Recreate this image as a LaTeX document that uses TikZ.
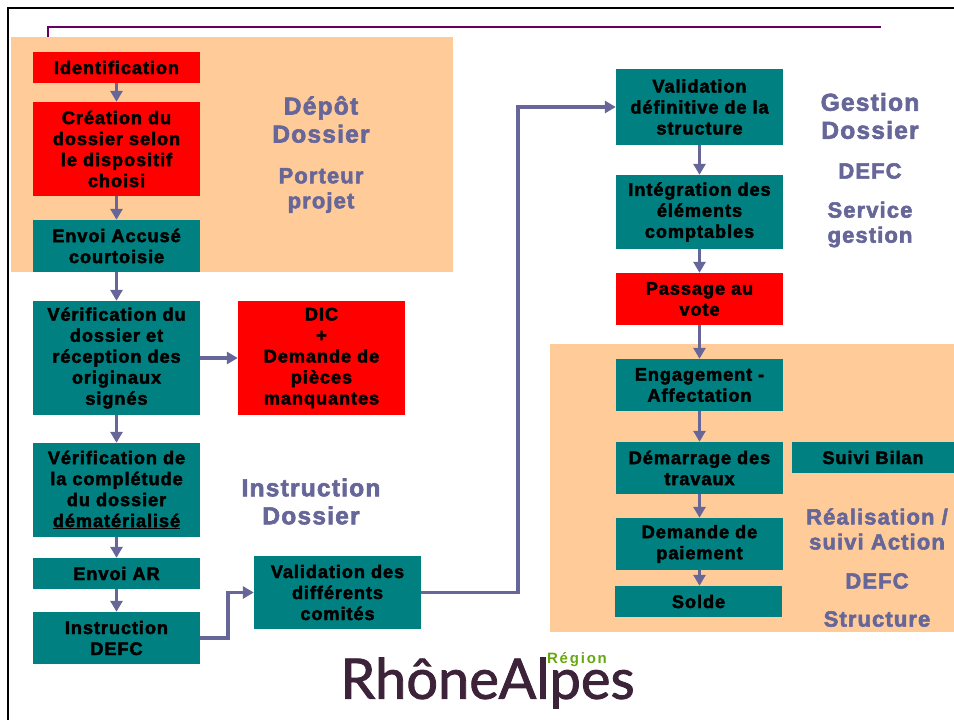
\documentclass[tikz,border=0pt]{standalone}
\usepackage{fontspec}
\setmainfont{Liberation Sans}
\newfontfamily\heavyfont[FakeBold=2.5,LetterSpace=5]{Liberation Sans Bold}
\newfontfamily\regionfont[LetterSpace=12]{Liberation Sans Bold}
\newfontfamily\logofont[FakeBold=1.5]{Lato}
\usetikzlibrary{arrows.meta}
\definecolor{tealbox}{HTML}{008080}
\definecolor{peach}{HTML}{FFCC99}
\definecolor{slate}{HTML}{666699}
\definecolor{plum}{HTML}{660066}
\definecolor{logodark}{HTML}{3D2339}
\definecolor{logogreen}{HTML}{66A80F}
\tikzstyle{zone} = [rectangle,
inner sep=0pt,
fill=peach]
\tikzstyle{redbox} = [rectangle,
minimum width=167pt,
inner sep=0pt,
align=center,
font=\heavyfont\fontsize{18.2}{21}\selectfont,
fill=red]
\tikzstyle{tealstep} = [redbox,
fill=tealbox]
\tikzstyle{title} = [align=center,
text=slate,
font=\heavyfont\fontsize{24.5}{28}\selectfont]
\tikzstyle{subtitle} = [align=center,
text=slate,
font=\heavyfont\fontsize{22}{25}\selectfont]
\tikzstyle{arrow} = [line width=3.5pt, draw=slate, -{Triangle[length=11pt,width=12pt]}]

\begin{document}
\begin{tikzpicture}[x=1pt, y=1pt]
			\useasboundingbox (0,0) rectangle (954,-720);
			\coordinate (framebl) at (8,-720);
			\coordinate (frametl) at (8,-8);
			\coordinate (frametr) at (954,-8);
			\coordinate (rulestart) at (48,-38);
			\coordinate (rulecorner) at (48,-27);
			\coordinate (ruleend) at (881,-27);
			\draw[line width=2.5pt, black] (framebl) -- (frametl) -- (frametr);
			\draw[line width=2.5pt, plum] (rulestart) -- (rulecorner) -- (ruleend);

			\node (depotzone) [zone, minimum width=442pt, minimum height=235pt] at (232,-154.5) {};
			\node (realzone) [zone, minimum width=404pt, minimum height=288pt] at (752,-488) {};

			\node (ident) [redbox, minimum height=31pt] at (116.5,-67.5) {Identification};
			\node (creation) [redbox, minimum height=94pt, below of=ident, node distance=81.5pt] {Création du\\dossier selon\\le dispositif\\choisi};
			\node (accuse) [tealstep, minimum height=52pt, below of=creation, node distance=97pt] {Envoi Accusé\\courtoisie};
			\node (verif) [tealstep, minimum height=114pt, below of=accuse, node distance=112pt] {Vérification du\\dossier et\\réception des\\originaux\\signés};
			\node (dic) [redbox, minimum height=114pt, right of=verif, node distance=205pt] {DIC\\+\\Demande de\\pièces\\manquantes};
			\node (complete) [tealstep, minimum height=94pt, below of=verif, node distance=132pt] {Vérification de\\la complétude\\du dossier\\\underline{dématérialisé}};
			\node (envoiar) [tealstep, minimum height=31pt, below of=complete, node distance=83.5pt] {Envoi AR};
			\node (instr) [tealstep, minimum height=52pt, below of=envoiar, node distance=64.5pt] {Instruction\\DEFC};
			\node (comites) [tealstep, minimum height=73pt] at (337.5,-592.5) {Validation des\\différents\\comités};

			\node (definitive) [tealstep, minimum height=76pt] at (699.5,-107) {Validation\\définitive de la\\structure};
			\node (integ) [tealstep, minimum height=74pt, below of=definitive, node distance=105pt] {Intégration des\\éléments\\comptables};
			\node (vote) [redbox, minimum height=52pt, below of=integ, node distance=87pt] {Passage au\\vote};
			\node (engag) [tealstep, minimum height=52pt, below of=vote, node distance=86pt] {Engagement -\\Affectation};
			\node (demar) [tealstep, minimum height=52pt, below of=engag, node distance=83pt] {Démarrage des\\travaux};
			\node (paiement) [tealstep, minimum height=52pt, below of=demar, node distance=76pt] {Demande de\\paiement};
			\node (solde) [tealstep, minimum height=31pt, below of=paiement, node distance=57.5pt, xshift=-1pt] {Solde};
			\node (suivi) [tealstep, minimum width=162pt, minimum height=31pt] at (873,-457.5) {Suivi Bilan};

			\node (depot) [title] at (321,-119.5) {Dépôt\\Dossier};
			\node (porteur) [subtitle] at (321,-190.5) {Porteur\\projet};
			\node (instrtitle) [title] at (311,-501.5) {Instruction\\Dossier};
			\node (gestion) [title] at (870,-116) {Gestion\\Dossier};
			\node (defcgest) [subtitle] at (870,-171) {DEFC};
			\node (service) [subtitle] at (870,-224.5) {Service\\gestion};
			\node (realis) [subtitle] at (877,-529) {Réalisation /\\suivi Action};
			\node (defcreal) [subtitle] at (877,-581) {DEFC};
			\node (structure) [subtitle] at (877,-619) {Structure};

			\node (logo) [text=logodark, font=\logofont\fontsize{56}{56}\selectfont, inner sep=0pt] at (487.5,-683) {RhôneAlpes};
			\node (region) [text=logogreen, font=\regionfont\fontsize{15}{15}\selectfont, inner sep=0pt] at (577,-660) {Région};

			\draw[arrow] (ident) -- (creation);
			\draw[arrow] (creation) -- (accuse);
			\draw[arrow] (accuse) -- (verif);
			\draw[arrow] (verif) -- (dic);
			\draw[arrow] (verif) -- (complete);
			\draw[arrow] (complete) -- (envoiar);
			\draw[arrow] (envoiar) -- (instr);
			\draw[arrow] (instr.east) -- ++(28,0) |- (comites.west);
			\draw[arrow] (comites.east) -- ++(97,0) |- (definitive.west);
			\draw[arrow] (definitive) -- (integ);
			\draw[arrow] (integ) -- (vote);
			\draw[arrow] (vote) -- (engag);
			\draw[arrow] (engag) -- (demar);
			\draw[arrow] (demar) -- (paiement);
			\draw[arrow] (paiement.south) -- (paiement.south |- solde.north);
		\end{tikzpicture}
\end{document}
